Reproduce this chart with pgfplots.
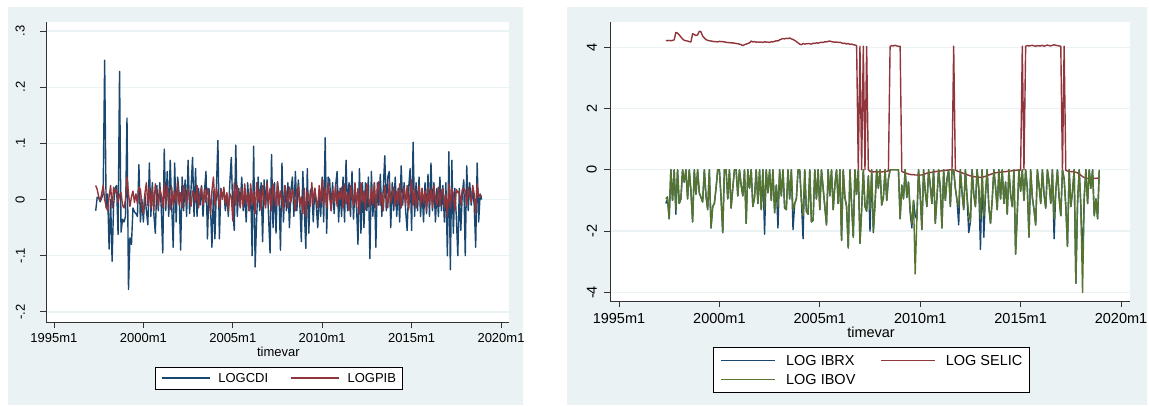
\documentclass[border=0pt]{standalone}
\usepackage{fontspec}
\setmainfont{Liberation Sans}
\usepackage{pgfplots}
\pgfplotsset{compat=1.18}
\usepackage{pgfplotstable}
\definecolor{stnavy}{RGB}{26,71,111}
\definecolor{stmaroon}{RGB}{144,53,59}
\definecolor{stgreen}{RGB}{85,117,47}
\definecolor{stbg}{RGB}{234,242,243}
\definecolor{stgrid}{RGB}{234,242,243}

% monthly data, first row = 1997m5, last row = 2018m12
\pgfplotstableread[row sep=\\]{y\\
-0.020\\ 0.004\\ 0.003\\ -0.004\\ 0.003\\ 0.010\\ 0.248\\ -0.015\\
0.010\\ -0.088\\ 0.000\\ -0.110\\ -0.010\\ 0.020\\ 0.025\\ -0.062\\ 0.228\\ -0.058\\ -0.035\\ -0.040\\
-0.030\\ 0.145\\ -0.160\\ -0.068\\ -0.080\\ -0.015\\ -0.022\\ -0.025\\ -0.030\\ 0.062\\ -0.040\\ 0.000\\
-0.040\\ 0.010\\ -0.020\\ -0.045\\ 0.065\\ -0.030\\ 0.030\\ -0.025\\ -0.060\\ 0.025\\ -0.020\\ 0.030\\
-0.015\\ -0.095\\ 0.090\\ -0.020\\ 0.050\\ -0.030\\ 0.070\\ -0.010\\ -0.085\\ 0.065\\ -0.040\\ 0.040\\
0.010\\ -0.090\\ 0.040\\ -0.020\\ 0.035\\ -0.030\\ 0.070\\ -0.025\\ 0.020\\ 0.075\\ -0.030\\ 0.055\\
-0.030\\ 0.020\\ -0.010\\ 0.025\\ -0.030\\ 0.015\\ 0.050\\ -0.070\\ 0.020\\ -0.010\\ -0.085\\ 0.015\\
-0.070\\ 0.020\\ 0.105\\ -0.070\\ 0.020\\ 0.005\\ 0.015\\ -0.020\\ 0.010\\ -0.030\\ 0.030\\ 0.075\\
-0.020\\ -0.055\\ 0.097\\ -0.030\\ 0.020\\ -0.010\\ 0.040\\ -0.020\\ 0.010\\ -0.040\\ 0.030\\ -0.020\\
0.020\\ -0.100\\ 0.095\\ -0.120\\ -0.035\\ 0.040\\ -0.020\\ 0.030\\ -0.075\\ 0.035\\ -0.010\\ 0.035\\
-0.030\\ -0.095\\ 0.080\\ -0.050\\ 0.030\\ -0.060\\ 0.030\\ 0.010\\ -0.090\\ 0.065\\ -0.040\\ 0.025\\
-0.020\\ 0.030\\ -0.050\\ 0.015\\ 0.040\\ -0.030\\ 0.050\\ -0.020\\ 0.035\\ -0.010\\ -0.075\\ 0.050\\
-0.020\\ -0.087\\ 0.055\\ -0.060\\ 0.015\\ 0.020\\ -0.040\\ 0.020\\ -0.010\\ -0.050\\ 0.015\\ -0.030\\
0.040\\ -0.040\\ 0.110\\ -0.060\\ 0.040\\ 0.035\\ -0.020\\ 0.030\\ -0.025\\ 0.025\\ 0.050\\ -0.040\\
0.020\\ -0.030\\ 0.040\\ -0.040\\ 0.070\\ -0.020\\ 0.030\\ -0.030\\ 0.050\\ -0.035\\ 0.020\\ -0.010\\
-0.080\\ 0.055\\ -0.060\\ 0.030\\ -0.050\\ 0.030\\ -0.020\\ 0.040\\ -0.105\\ 0.050\\ -0.030\\ 0.030\\
-0.085\\ 0.030\\ -0.010\\ 0.045\\ -0.030\\ 0.020\\ 0.078\\ -0.020\\ 0.040\\ 0.050\\ -0.050\\ 0.030\\
-0.020\\ 0.040\\ -0.030\\ 0.020\\ -0.040\\ 0.060\\ -0.010\\ 0.030\\ -0.020\\ -0.055\\ 0.020\\ 0.055\\
-0.055\\ 0.102\\ -0.030\\ 0.030\\ -0.020\\ 0.040\\ -0.030\\ 0.020\\ -0.040\\ 0.030\\ -0.025\\ 0.045\\
-0.030\\ 0.065\\ -0.020\\ 0.030\\ -0.040\\ 0.020\\ -0.030\\ 0.040\\ -0.020\\ 0.025\\ -0.040\\ 0.030\\
-0.100\\ 0.085\\ -0.125\\ 0.070\\ -0.060\\ 0.020\\ -0.030\\ -0.100\\ 0.020\\ -0.055\\ 0.010\\ 0.035\\
-0.100\\ 0.060\\ -0.020\\ 0.030\\ -0.010\\ 0.020\\ -0.010\\ -0.085\\ 0.065\\ -0.040\\ 0.010\\ 0.000\\
}\cdi

\pgfplotstableread[row sep=\\]{y\\
0.025\\ 0.018\\ 0.005\\ -0.002\\ 0.010\\ 0.025\\ 0.000\\ -0.012\\
-0.020\\ 0.005\\ 0.025\\ -0.015\\ 0.022\\ 0.012\\ 0.018\\ -0.005\\ 0.008\\ 0.012\\ -0.010\\ -0.015\\
0.000\\ 0.040\\ 0.010\\ -0.012\\ 0.005\\ 0.015\\ -0.005\\ 0.010\\ -0.008\\ 0.022\\ 0.018\\ -0.010\\
-0.025\\ 0.010\\ 0.030\\ -0.010\\ 0.022\\ -0.015\\ 0.020\\ -0.020\\ 0.028\\ 0.005\\ -0.012\\ 0.020\\
0.008\\ -0.015\\ 0.030\\ -0.010\\ 0.025\\ 0.000\\ -0.018\\ 0.022\\ -0.010\\ 0.015\\ -0.005\\ 0.030\\
-0.010\\ 0.012\\ -0.015\\ 0.025\\ 0.008\\ -0.008\\ 0.020\\ 0.005\\ -0.012\\ 0.015\\ 0.010\\ -0.005\\
0.025\\ -0.015\\ 0.010\\ 0.022\\ -0.010\\ 0.018\\ -0.005\\ 0.020\\ 0.005\\ -0.025\\ 0.015\\ 0.040\\
-0.010\\ 0.020\\ 0.005\\ -0.015\\ 0.018\\ 0.000\\ 0.022\\ -0.008\\ 0.012\\ -0.020\\ 0.010\\ 0.005\\
-0.038\\ 0.030\\ -0.010\\ 0.025\\ 0.005\\ -0.015\\ 0.020\\ -0.012\\ 0.028\\ -0.008\\ 0.012\\ -0.020\\
0.028\\ -0.010\\ 0.015\\ -0.025\\ 0.030\\ -0.005\\ 0.018\\ -0.018\\ 0.025\\ 0.000\\ -0.015\\ 0.030\\
-0.010\\ 0.020\\ -0.020\\ 0.028\\ 0.005\\ -0.012\\ 0.032\\ -0.010\\ 0.015\\ 0.000\\ -0.018\\ 0.025\\
0.010\\ -0.015\\ 0.022\\ -0.005\\ 0.018\\ 0.008\\ -0.020\\ 0.015\\ 0.025\\ -0.010\\ 0.005\\ -0.025\\
0.020\\ -0.030\\ 0.015\\ 0.005\\ -0.012\\ 0.030\\ -0.008\\ 0.020\\ 0.000\\ -0.015\\ 0.025\\ -0.005\\
0.035\\ -0.010\\ 0.020\\ -0.015\\ 0.030\\ 0.005\\ -0.020\\ 0.018\\ -0.005\\ 0.025\\ -0.012\\ 0.015\\
0.000\\ 0.022\\ -0.015\\ 0.028\\ -0.008\\ 0.012\\ -0.020\\ 0.025\\ 0.005\\ -0.010\\ 0.030\\ -0.015\\
0.020\\ -0.025\\ 0.030\\ -0.005\\ 0.015\\ -0.018\\ 0.028\\ 0.000\\ -0.012\\ 0.022\\ -0.008\\ 0.030\\
-0.015\\ 0.018\\ 0.032\\ -0.010\\ 0.012\\ -0.020\\ 0.025\\ 0.005\\ -0.015\\ 0.030\\ -0.005\\ 0.010\\
0.022\\ -0.012\\ 0.015\\ -0.008\\ 0.028\\ -0.015\\ 0.010\\ 0.020\\ -0.010\\ 0.025\\ -0.018\\ 0.012\\
0.035\\ -0.010\\ 0.018\\ -0.015\\ 0.005\\ 0.025\\ -0.012\\ 0.020\\ -0.005\\ 0.015\\ -0.020\\ 0.022\\
-0.008\\ 0.018\\ -0.015\\ 0.025\\ 0.000\\ -0.010\\ 0.022\\ -0.012\\ 0.015\\ 0.020\\ -0.015\\ 0.010\\
-0.030\\ 0.028\\ -0.015\\ 0.020\\ 0.010\\ -0.020\\ 0.018\\ 0.012\\ 0.015\\ -0.010\\ 0.018\\ 0.020\\
0.015\\ -0.010\\ 0.022\\ 0.008\\ -0.005\\ 0.025\\ 0.010\\ -0.025\\ 0.028\\ 0.005\\ 0.008\\ 0.005\\
}\pib

\pgfplotstableread[row sep=\\]{y\\
4.22\\ 4.21\\ 4.22\\ 4.21\\ 4.22\\ 4.24\\ 4.48\\ 4.46\\
4.40\\ 4.33\\ 4.27\\ 4.22\\ 4.21\\ 4.20\\ 4.18\\ 4.17\\ 4.44\\ 4.41\\ 4.38\\ 4.40\\
4.52\\ 4.50\\ 4.36\\ 4.30\\ 4.25\\ 4.22\\ 4.21\\ 4.20\\ 4.19\\ 4.18\\ 4.18\\ 4.17\\
4.19\\ 4.18\\ 4.18\\ 4.17\\ 4.16\\ 4.15\\ 4.15\\ 4.14\\ 4.14\\ 4.13\\ 4.12\\ 4.11\\
4.10\\ 4.08\\ 4.05\\ 4.08\\ 4.10\\ 4.12\\ 4.14\\ 4.20\\ 4.17\\ 4.18\\ 4.16\\ 4.17\\
4.16\\ 4.17\\ 4.15\\ 4.18\\ 4.16\\ 4.17\\ 4.15\\ 4.18\\ 4.17\\ 4.19\\ 4.21\\ 4.20\\
4.24\\ 4.26\\ 4.28\\ 4.27\\ 4.29\\ 4.28\\ 4.30\\ 4.27\\ 4.25\\ 4.22\\ 4.18\\ 4.14\\
4.10\\ 4.08\\ 4.12\\ 4.10\\ 4.11\\ 4.12\\ 4.11\\ 4.10\\ 4.13\\ 4.12\\ 4.14\\ 4.13\\
4.15\\ 4.16\\ 4.15\\ 4.18\\ 4.17\\ 4.19\\ 4.20\\ 4.18\\ 4.17\\ 4.16\\ 4.17\\ 4.15\\
4.16\\ 4.14\\ 4.12\\ 4.13\\ 4.10\\ 4.12\\ 4.09\\ 4.10\\ 4.08\\ 4.07\\ 4.05\\ 0.00\\
4.03\\ 0.00\\ 4.03\\ 0.00\\ 4.02\\ 0.00\\ -0.05\\ -0.06\\ -0.07\\ -0.06\\ -0.08\\ -0.07\\
-0.08\\ -0.07\\ -0.06\\ -0.05\\ -0.05\\ -0.04\\ 4.02\\ 4.05\\ 4.04\\ 4.06\\ 4.04\\ 4.03\\
4.03\\ -0.05\\ -0.08\\ -0.10\\ -0.12\\ -0.14\\ -0.15\\ -0.16\\ -0.16\\ -0.17\\ -0.17\\ -0.18\\
-0.17\\ -0.17\\ -0.15\\ -0.13\\ -0.11\\ -0.10\\ -0.09\\ -0.08\\ -0.07\\ -0.06\\ -0.05\\ -0.05\\
-0.04\\ -0.03\\ -0.02\\ -0.02\\ -0.01\\ -0.01\\ 0.00\\ 0.00\\ 4.03\\ -0.01\\ -0.04\\ -0.06\\
-0.08\\ -0.10\\ -0.12\\ -0.14\\ -0.16\\ -0.18\\ -0.20\\ -0.21\\ -0.22\\ -0.23\\ -0.24\\ -0.24\\
-0.25\\ -0.24\\ -0.23\\ -0.21\\ -0.19\\ -0.17\\ -0.15\\ -0.13\\ -0.11\\ -0.10\\ -0.09\\ -0.08\\
-0.08\\ -0.07\\ -0.06\\ -0.06\\ -0.05\\ -0.04\\ -0.04\\ -0.03\\ -0.02\\ -0.02\\ -0.01\\ -0.01\\
-0.01\\ 4.03\\ 0.00\\ 4.03\\ 4.05\\ 4.04\\ 4.05\\ 4.06\\ 4.04\\ 4.03\\ 4.05\\ 4.04\\
4.04\\ 4.06\\ 4.03\\ 4.05\\ 4.07\\ 4.05\\ 4.04\\ 4.06\\ 4.08\\ 4.06\\ 4.05\\ 4.04\\
4.03\\ 0.00\\ 4.03\\ -0.02\\ -0.04\\ -0.05\\ -0.06\\ -0.06\\ -0.07\\ -0.08\\ -0.10\\ -0.13\\
-0.18\\ -0.22\\ -0.25\\ -0.27\\ -0.28\\ -0.29\\ -0.30\\ -0.29\\ -0.28\\ -0.28\\ -0.27\\ -0.28\\
}\selic

\pgfplotstableread[row sep=\\]{y\\
-0.95\\ -0.88\\ -1.60\\ 0.00\\ -1.00\\ 0.00\\ -1.30\\ 0.00\\
-1.10\\ -0.95\\ 0.00\\ -0.40\\ 0.00\\ -0.95\\ 0.00\\ -0.70\\ -1.70\\ 0.00\\ -0.80\\ 0.00\\
-0.75\\ -0.90\\ -1.05\\ 0.00\\ -0.85\\ -1.30\\ 0.00\\ -1.90\\ -1.20\\ -1.10\\ -0.60\\ 0.00\\
0.00\\ -0.90\\ -2.05\\ 0.00\\ 0.00\\ -0.95\\ 0.00\\ -1.25\\ -0.60\\ 0.00\\ 0.00\\ -0.85\\
0.00\\ -0.50\\ -0.85\\ 0.00\\ -1.75\\ 0.00\\ -0.60\\ 0.00\\ -1.20\\ -0.90\\ 0.00\\ -1.10\\
0.00\\ -1.30\\ 0.00\\ -1.30\\ 0.00\\ -0.75\\ 0.00\\ -1.00\\ 0.00\\ -1.40\\ -0.50\\ -1.20\\
0.00\\ -0.85\\ 0.00\\ -1.25\\ -1.30\\ 0.00\\ -0.95\\ 0.00\\ -1.30\\ -1.10\\ -0.95\\ 0.00\\
0.00\\ -1.00\\ -1.50\\ 0.00\\ -1.35\\ -1.45\\ 0.00\\ -1.70\\ -1.65\\ 0.00\\ -0.95\\ 0.00\\
-1.30\\ 0.00\\ -0.60\\ -1.20\\ -1.80\\ 0.00\\ -0.85\\ 0.00\\ -1.30\\ -0.50\\ 0.00\\ -1.10\\
0.00\\ -2.30\\ 0.00\\ -0.90\\ -1.20\\ -2.55\\ 0.00\\ -1.15\\ -2.20\\ 0.00\\ -0.80\\ 0.00\\
-2.40\\ -1.30\\ 0.00\\ -1.20\\ -1.35\\ -0.20\\ -1.30\\ 0.00\\ -2.00\\ -1.10\\ 0.00\\ -0.60\\
0.00\\ -1.15\\ -0.90\\ 0.00\\ -1.00\\ -0.30\\ 0.00\\ 0.00\\ 0.00\\ 0.00\\ 0.00\\ 0.00\\
-1.60\\ -0.50\\ -0.95\\ 0.00\\ -0.90\\ -0.40\\ -1.30\\ -1.75\\ -1.00\\ -3.40\\ -1.60\\ 0.00\\
-0.80\\ -1.95\\ 0.00\\ -0.70\\ -1.20\\ 0.00\\ -0.50\\ -1.10\\ 0.00\\ -1.75\\ -0.90\\ 0.00\\
-0.60\\ -1.90\\ 0.00\\ -1.00\\ -0.30\\ 0.00\\ -1.20\\ 0.00\\ 0.00\\ -0.60\\ -1.00\\ -1.20\\
0.00\\ -0.75\\ -1.30\\ 0.00\\ -0.90\\ -1.40\\ -1.70\\ 0.00\\ -0.80\\ -1.20\\ 0.00\\ -0.60\\
-1.60\\ 0.00\\ -1.50\\ -0.80\\ 0.00\\ -1.20\\ -1.75\\ -1.00\\ 0.00\\ -0.55\\ -1.30\\ 0.00\\
-0.95\\ 0.00\\ -1.10\\ -0.40\\ -1.45\\ 0.00\\ -0.80\\ -1.20\\ 0.00\\ -2.75\\ -1.40\\ 0.00\\
-0.70\\ 0.00\\ -1.00\\ 0.00\\ -0.60\\ -2.20\\ 0.00\\ -0.90\\ -1.30\\ -1.80\\ 0.00\\ -0.50\\
-1.10\\ 0.00\\ -0.80\\ -1.25\\ 0.00\\ -0.40\\ -1.10\\ 0.00\\ -1.60\\ -0.70\\ 0.00\\ -0.90\\
-1.50\\ 0.00\\ -0.30\\ -1.20\\ -2.50\\ 0.00\\ -1.20\\ -0.70\\ 0.00\\ -3.70\\ -1.10\\ 0.00\\
-1.20\\ -4.00\\ -0.90\\ 0.00\\ -1.10\\ 0.00\\ -0.60\\ 0.00\\ -1.50\\ -0.95\\ -1.60\\ 0.00\\
}\ibov

\pgfplotstableread[row sep=\\]{y\\
-1.10\\ -0.95\\ -1.60\\ 0.00\\ -1.00\\ 0.00\\ -1.45\\ 0.00\\
-1.10\\ -0.95\\ 0.00\\ -0.40\\ 0.00\\ -0.95\\ 0.00\\ -0.70\\ -1.70\\ 0.00\\ -0.80\\ 0.00\\
-0.75\\ -0.90\\ -1.05\\ 0.00\\ -0.85\\ -1.30\\ 0.00\\ -1.90\\ -1.20\\ -1.10\\ -0.60\\ 0.00\\
0.00\\ -0.90\\ -2.05\\ 0.00\\ 0.00\\ -0.95\\ 0.00\\ -1.25\\ -0.60\\ 0.00\\ 0.00\\ -0.85\\
0.00\\ -0.50\\ -0.85\\ 0.00\\ -1.75\\ 0.00\\ -0.60\\ 0.00\\ -1.20\\ -0.90\\ 0.00\\ -1.10\\
0.00\\ -1.30\\ 0.00\\ -2.10\\ 0.00\\ -0.75\\ 0.00\\ -1.00\\ 0.00\\ -1.40\\ -0.50\\ -1.90\\
0.00\\ -0.85\\ 0.00\\ -1.25\\ -1.30\\ 0.00\\ -0.95\\ 0.00\\ -1.95\\ -1.10\\ -0.95\\ 0.00\\
0.00\\ -1.00\\ -2.25\\ 0.00\\ -1.35\\ -1.45\\ 0.00\\ -1.70\\ -1.65\\ 0.00\\ -0.95\\ 0.00\\
-1.30\\ 0.00\\ -0.60\\ -1.20\\ -1.80\\ 0.00\\ -0.85\\ 0.00\\ -1.30\\ -0.50\\ 0.00\\ -1.10\\
0.00\\ -2.30\\ 0.00\\ -0.90\\ -1.20\\ -2.55\\ 0.00\\ -1.15\\ -2.20\\ 0.00\\ -0.80\\ 0.00\\
-2.40\\ -1.30\\ 0.00\\ -1.20\\ -1.35\\ -0.20\\ -2.00\\ 0.00\\ -2.05\\ -1.10\\ 0.00\\ -0.60\\
0.00\\ -1.15\\ -0.90\\ 0.00\\ -1.00\\ -0.30\\ 0.00\\ 0.00\\ 0.00\\ 0.00\\ 0.00\\ 0.00\\
-1.60\\ -0.50\\ -0.95\\ 0.00\\ -0.90\\ -0.40\\ -1.40\\ -1.90\\ -1.00\\ -1.50\\ -1.60\\ 0.00\\
-0.80\\ -1.95\\ 0.00\\ -0.70\\ -1.20\\ 0.00\\ -0.50\\ -1.10\\ 0.00\\ -1.75\\ -0.90\\ 0.00\\
-0.60\\ -1.90\\ 0.00\\ -1.00\\ -0.30\\ 0.00\\ -1.20\\ 0.00\\ 0.00\\ -0.60\\ -1.00\\ -1.80\\
0.00\\ -0.75\\ -1.30\\ 0.00\\ -0.90\\ -2.05\\ -1.70\\ 0.00\\ -0.80\\ -1.20\\ 0.00\\ -0.60\\
-2.60\\ 0.00\\ -2.20\\ -0.80\\ 0.00\\ -1.20\\ -1.75\\ -1.00\\ 0.00\\ -0.55\\ -1.30\\ 0.00\\
-0.95\\ 0.00\\ -1.10\\ -0.40\\ -1.45\\ 0.00\\ -0.80\\ -1.20\\ 0.00\\ -2.75\\ -1.40\\ 0.00\\
-0.70\\ 0.00\\ -1.00\\ 0.00\\ -0.60\\ -2.20\\ 0.00\\ -0.90\\ -1.30\\ -1.80\\ 0.00\\ -0.50\\
-1.10\\ 0.00\\ -0.80\\ -1.25\\ 0.00\\ -0.40\\ -1.10\\ 0.00\\ -2.25\\ -0.70\\ 0.00\\ -0.90\\
-1.50\\ 0.00\\ -0.30\\ -1.20\\ -2.50\\ 0.00\\ -1.20\\ -0.70\\ 0.00\\ -3.70\\ -1.10\\ 0.00\\
-1.20\\ -3.00\\ -0.90\\ 0.00\\ -1.10\\ 0.00\\ -0.60\\ 0.00\\ -1.50\\ -0.95\\ -1.60\\ 0.00\\
}\ibrx

\pgfplotsset{
  stata/.style={
    scale only axis,
    axis x line*=bottom, axis y line*=left,
    axis line style={black!80, line width=0.8pt},
    tick align=outside, major tick length=6pt,
    tick style={black!80, line width=0.8pt},
    ymajorgrids, grid style={stgrid, line width=1.3pt},
    xmin=-33.36, xmax=277.36,
    xtick={-28,32,92,152,212,272},
    xticklabels={1995m1,2000m1,2005m1,2010m1,2015m1,2020m1},
    xlabel={timevar},
    legend cell align=left,
    every axis plot/.append style={line width=1.4pt, line join=round},
  }
}

\begin{document}
\begin{tikzpicture}[x=1pt,y=1pt]
\fill[white] (0,0) rectangle (1149,-405);
\fill[stbg] (8,-7) rectangle (523,-405);
\fill[stbg] (567,-7) rectangle (1147,-405);
\fill[white] (46,-22) rectangle (509,-322);
\fill[white] (610,-22) rectangle (1130,-301);

\begin{axis}[stata,
  at={(46pt,-322pt)}, anchor=south west,
  width=463pt, height=300pt,
  ymin=-0.218, ymax=0.316,
  ytick={-0.2,-0.1,0,0.1,0.2,0.3},
  yticklabels={-.2,-.1,0,.1,.2,.3},
  tick label style={font=\fontsize{13}{15}\selectfont},
  yticklabel style={rotate=90, anchor=south, inner sep=0pt},
  yticklabel shift=15pt,
  xticklabel style={anchor=north, inner sep=0pt},
  xticklabel shift=5.5pt,
  label style={font=\fontsize{13}{15}\selectfont},
  xlabel style={at={(axis description cs:0.502,-0.1)}, anchor=center},
  legend columns=2,
  legend image code/.code={\draw[#1, line width=1.4pt] (0pt,0pt) -- (48pt,0pt);},
  legend style={at={(0.502,-0.15)}, anchor=north, draw=black, line width=0.8pt,
    fill=white, font=\fontsize{13}{15}\selectfont,
    inner xsep=6pt, inner ysep=6pt,
    nodes={inner sep=0pt, text height=9.5pt, text depth=0pt},
    /tikz/every odd column/.append style={column sep=8pt},
    /tikz/every even column/.append style={column sep=22pt}},
]
\addplot[stnavy] table[x expr=\coordindex, y=y] {\cdi};
\addlegendentry{LOGCDI}
\addplot[stmaroon] table[x expr=\coordindex, y=y] {\pib};
\addlegendentry{LOGPIB}
\end{axis}

\begin{axis}[stata,
  at={(610pt,-301pt)}, anchor=south west,
  width=520pt, height=279pt,
  ymin=-4.28, ymax=4.82,
  ytick={-4,-2,0,2,4},
  yticklabels={-4,-2,0,2,4},
  tick label style={font=\fontsize{14.5}{16}\selectfont},
  yticklabel style={rotate=90, anchor=south, inner sep=0pt},
  yticklabel shift=7pt,
  xticklabel style={anchor=north, inner sep=0pt},
  xticklabel shift=6pt,
  label style={font=\fontsize{14.5}{16}\selectfont},
  xlabel style={at={(axis description cs:0.502,-0.111)}, anchor=center},
  legend columns=2,
  legend image code/.code={\draw[#1, line width=1.4pt] (0pt,0pt) -- (54pt,0pt);},
  legend style={at={(0.503,-0.165)}, anchor=north, draw=black, line width=0.8pt,
    fill=white, font=\fontsize{14.5}{16}\selectfont,
    inner xsep=7pt, inner ysep=8pt,
    nodes={inner sep=0pt, text height=10.4pt, text depth=0pt},
    row sep=8.5pt,
    /tikz/every odd column/.append style={column sep=10pt},
    /tikz/every even column/.append style={column sep=25pt}},
]
\addplot[stnavy] table[x expr=\coordindex, y=y] {\ibrx};
\addlegendentry{LOG IBRX}
\addplot[stmaroon] table[x expr=\coordindex, y=y] {\selic};
\addlegendentry{LOG SELIC}
\addplot[stgreen] table[x expr=\coordindex, y=y] {\ibov};
\addlegendentry{LOG IBOV}
\end{axis}
\end{tikzpicture}
\end{document}
